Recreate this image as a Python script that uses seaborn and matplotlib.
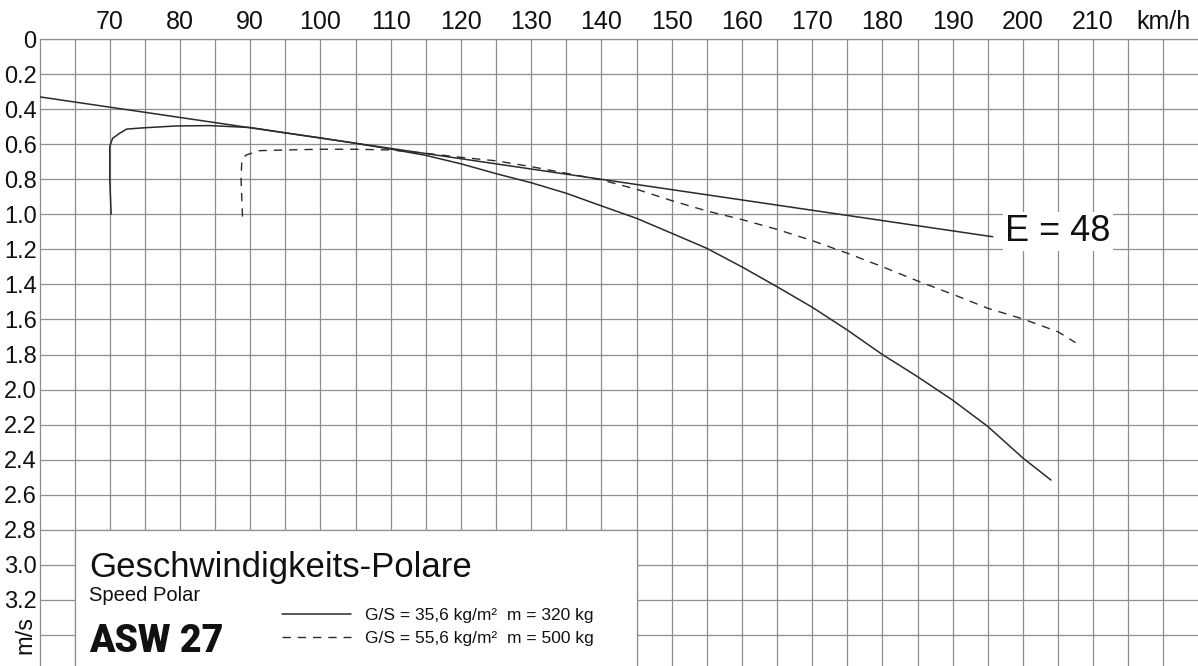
import matplotlib
matplotlib.use("Agg")
import matplotlib.pyplot as plt
import seaborn as sns
import pandas as pd
from matplotlib.patches import Rectangle

# ---------------- data ----------------
# solid polar: G/S = 35,6 kg/m², m = 320 kg
v_light = [70.2, 70.0, 70.0, 70.4, 71.4, 72.4, 74.7, 79.5, 84.2, 90, 95, 100,
           105, 110, 115, 120, 125, 130, 135, 140, 145, 150, 155, 160, 165,
           170, 175, 180, 185, 190, 195, 200, 204]
w_light = [1.00, 0.80, 0.614, 0.567, 0.538, 0.514, 0.507, 0.496, 0.494, 0.505,
           0.535, 0.564, 0.595, 0.628, 0.664, 0.712, 0.768, 0.82, 0.88, 0.952,
           1.023, 1.108, 1.194, 1.30, 1.413, 1.53, 1.66, 1.80, 1.926, 2.06,
           2.21, 2.39, 2.516]

# dashed polar: G/S = 55,6 kg/m², m = 500 kg
v_heavy = [88.9, 88.7, 88.8, 89.4, 91.3, 95, 100, 105, 110, 115, 120, 125, 130,
           135, 140, 145, 150, 155, 160, 165, 170, 175, 180, 185, 190, 195,
           200, 205, 207.5]
w_heavy = [1.013, 0.804, 0.69, 0.662, 0.637, 0.633, 0.629, 0.629, 0.633, 0.652,
           0.675, 0.695, 0.728, 0.766, 0.804, 0.857, 0.922, 0.981, 1.03, 1.086,
           1.15, 1.222, 1.299, 1.38, 1.456, 1.536, 1.597, 1.67, 1.732]

# glide-ratio line E = 48
e_line_v = [60, 195.7]
e_line_w = [0.33, 1.128]

x_tick_values = [70, 80, 90, 100, 110, 120, 130, 140, 150, 160, 170, 180, 190,
                 200, 210, 220]
x_tick_labels = ["70", "80", "90", "100", "110", "120", "130", "140", "150",
                 "160", "170", "180", "190", "200", "210", "km/h"]
x_minor_values = [65, 75, 85, 95, 105, 115, 125, 135, 145, 155, 165, 175, 185,
                  195, 205, 215]
y_tick_values = [0, 0.2, 0.4, 0.6, 0.8, 1.0, 1.2, 1.4, 1.6, 1.8, 2.0, 2.2, 2.4,
                 2.6, 2.8, 3.0, 3.2, 3.4]
y_tick_labels = ["0", "0.2", "0.4", "0.6", "0.8", "1.0", "1.2", "1.4", "1.6",
                 "1.8", "2.0", "2.2", "2.4", "2.6", "2.8", "3.0", "3.2", "m/s"]
legend_labels = ["G/S = 35,6 kg/m²  m = 320 kg", "G/S = 55,6 kg/m²  m = 500 kg"]
title_de = "Geschwindigkeits-Polare"
title_en = "Speed Polar"
model_name = "ASW 27"
e_label = "E = 48"

# ---------------- styling ----------------
sns.set_theme(style="white")
plt.rcParams["font.family"] = ["Liberation Sans", "DejaVu Sans"]
NARROW = ["Liberation Sans Narrow", "Liberation Sans", "DejaVu Sans"]
GRID_C = "#8e8e8e"
GRID_LW = 0.9
INK = "#2b2b2b"

W, H = 1198, 666
fig = plt.figure(figsize=(W / 100, H / 100), dpi=100)
fig.patch.set_facecolor("white")
left_px, top_px = 39.5, 39.0
ax = fig.add_axes([left_px / W, 0, 1 - left_px / W, (H - top_px) / H])
ax.set_facecolor("white")

x_max = 60 + (W - left_px) / 7.024
y_max = (H - top_px) / 175.3
ax.set_xlim(60, x_max)
ax.set_ylim(y_max, 0)

# ticks / grid
ax.xaxis.tick_top()
ax.set_xticks(x_tick_values)
ax.set_xticklabels(x_tick_labels, fontfamily=NARROW, fontsize=18, color="#111111")
ax.set_xticks(x_minor_values, minor=True)
ax.set_yticks(y_tick_values)
ax.set_yticklabels(y_tick_labels, fontfamily=NARROW, fontsize=17, color="#111111")
ax.tick_params(axis="x", which="both", length=0, pad=3.5)
ax.tick_params(axis="y", which="both", length=0, pad=2.0)
lab = ax.get_yticklabels()[-1]
lab.set_rotation(90)
lab.set_va("center")

ax.set_axisbelow(True)
ax.grid(True, which="both", axis="both", color=GRID_C, lw=GRID_LW)
for s in ["right", "bottom"]:
    ax.spines[s].set_visible(False)
for s in ["left", "top"]:
    ax.spines[s].set_color(GRID_C)
    ax.spines[s].set_linewidth(GRID_LW)

# legend / title box
ax.add_patch(Rectangle((65, 2.8), 80, 1.2, facecolor="white", edgecolor=GRID_C,
                       lw=GRID_LW, zorder=1.5))

# curves
df_light = pd.DataFrame({"v": v_light, "w": w_light})
df_heavy = pd.DataFrame({"v": v_heavy, "w": w_heavy})
df_e = pd.DataFrame({"v": e_line_v, "w": e_line_w})

sns.lineplot(data=df_e, x="v", y="w", sort=False, estimator=None, color=INK,
             lw=1.1, ax=ax, legend=False, zorder=3)
sns.lineplot(data=df_light, x="v", y="w", sort=False, estimator=None, color=INK,
             lw=1.1, ax=ax, legend=False, zorder=3)
line_light = ax.lines[-1]
sns.lineplot(data=df_heavy, x="v", y="w", sort=False, estimator=None, color=INK,
             lw=1.0, ax=ax, legend=False, zorder=3)
line_heavy = ax.lines[-1]
line_heavy.set_dashes([6, 5])
ax.set_xlabel("")
ax.set_ylabel("")

# texts
ax.text(197.5, 1.098, e_label, fontsize=26, ha="left", va="center",
        zorder=4, color="#111111",
        bbox=dict(facecolor="white", edgecolor="none", pad=1.5))
ax.text(67.1, 3.07, title_de, fontsize=25, ha="left", va="baseline",
        zorder=4, color="#111111")
ax.text(67.1, 3.206, title_en, fontsize=14.5, ha="left", va="baseline",
        zorder=4, color="#111111")
ax.text(67.0, 3.497, model_name, fontsize=27, fontweight="heavy",
        fontfamily=["Roboto", "Liberation Sans"], ha="left", va="baseline",
        zorder=4, color="#111111")

leg = ax.legend(handles=[line_light, line_heavy], labels=legend_labels,
                loc="center left",
                bbox_to_anchor=((282 - left_px) / (W - left_px), (H - 627) / (H - top_px)),
                bbox_transform=ax.transAxes, frameon=False, fontsize=12.5,
                handlelength=4.0, handletextpad=0.8, borderpad=0,
                labelspacing=0.45, borderaxespad=0)
for t in leg.get_texts():
    t.set_color("#111111")
leg.set_zorder(5)

fig.savefig("out.png", dpi=100, facecolor="white")
